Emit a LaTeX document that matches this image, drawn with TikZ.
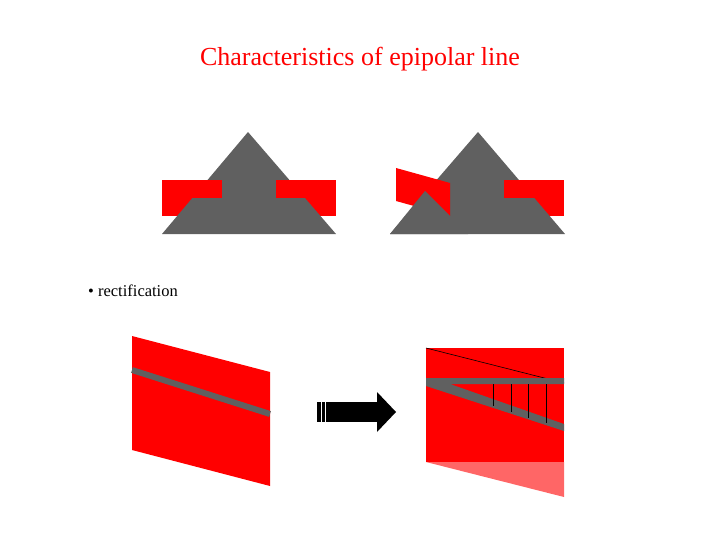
\documentclass[tikz,border=0pt]{standalone}
\usepackage{fontspec}
\setmainfont{Liberation Serif}
\begin{document}
\begin{tikzpicture}[x=1pt,y=-1pt,
  rd/.style={fill=red,draw=none},
  gr/.style={fill=gray!75!black,draw=none},
  txt/.style={inner sep=0pt}]
\definecolor{gry}{RGB}{96,96,96}
\tikzset{gr/.style={fill=gry,draw=none}}
\useasboundingbox (0,0) rectangle (720,540);
\node[txt,text=red,font=\fontsize{26}{30}\selectfont] (title) at (360,59) {Characteristics of epipolar line};
\node[txt,anchor=west,font=\fontsize{16.5}{20}\selectfont] (bul) at (88,291) {\textbullet\ rectification};
% left pair
\fill[rd] (162,180) rectangle (222,216);
\fill[rd] (276,180) rectangle (336,216);
\fill[gr] (248,132) -- (336,234) -- (162,234) -- cycle;
\fill[rd] (162,180) rectangle (222,198);
\fill[rd] (276,180) rectangle (336,198);
% right pair
\fill[rd] (504,180) rectangle (564,216);
\fill[gr] (478,132) -- (565,234) -- (390,234) -- cycle;
\fill[rd] (504,180) rectangle (564,198);
\fill[rd] (396,168) -- (450,183) -- (450,216) -- (396,201) -- cycle;
\fill[gr] (425,191) -- (468,234) -- (390,234) -- cycle;
% bottom left
\fill[rd] (132,336) -- (270,372) -- (270,486) -- (132,450) -- cycle;
\draw[gry,line width=6pt] (132,370) -- (270,414);
% arrow
\fill[black] (317,402) rectangle (377,422);
\fill[black] (377,392) -- (396,412) -- (377,432) -- cycle;
\draw[white,line width=1pt] (321,401) -- (321,423) (325,401) -- (325,423);
% bottom right
\fill[red!60!white] (426,462) -- (564,462) -- (564,497) -- cycle;
\fill[rd] (426,348) rectangle (564,462);
\draw[black,line width=0.6pt] (426,348) -- (564,383);
\fill[gry] (426,378) -- (564,378) -- (564,384) -- (450,384) -- (564,424) -- (564,431) -- (426,386) -- cycle;
\foreach \x/\yb in {493/406,511/412,528/418,546/423}
  \draw[black,line width=0.6pt] (\x,384) -- (\x,\yb);
\end{tikzpicture}
\end{document}
